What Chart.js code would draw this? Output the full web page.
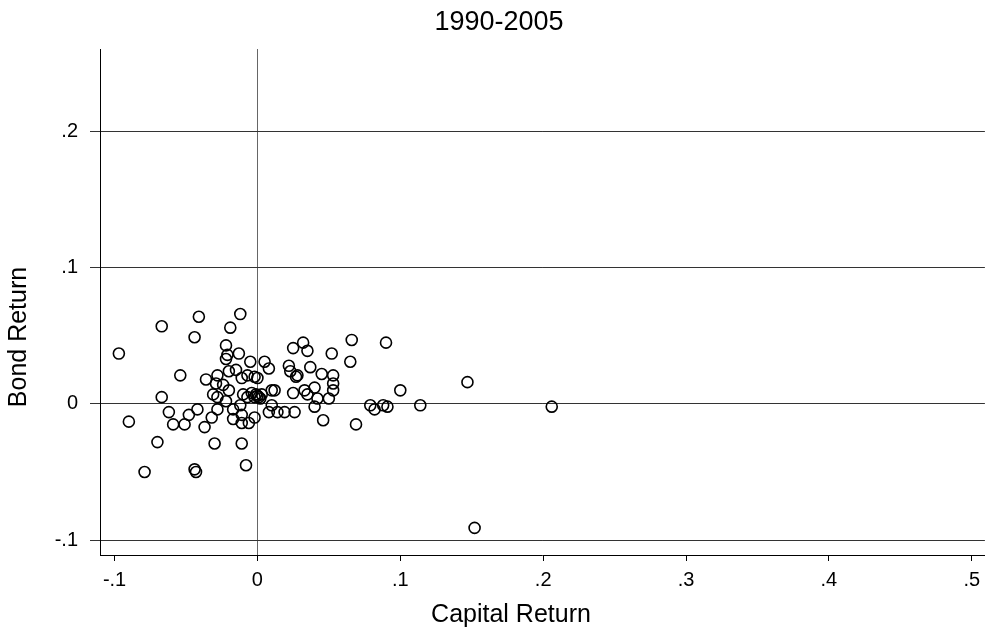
<!DOCTYPE html>
<html>
<head>
<meta charset="utf-8">
<script src="https://cdn.jsdelivr.net/npm/chart.js@4"></script>
<style>
  html, body { margin: 0; padding: 0; background: #fff; }
  #wrap { width: 992px; height: 634px; }
</style>
</head>
<body>
<div id="wrap"><canvas id="myChart" width="992" height="634"></canvas></div>
<script>
const chartTitle = '1990-2005';
const xTitle = 'Capital Return';
const yTitle = 'Bond Return';

const xTicks = [-0.1, 0, 0.1, 0.2, 0.3, 0.4, 0.5];
const yTicks = [-0.1, 0, 0.1, 0.2];

const capitalReturn = [
  -0.097, -0.067, -0.041, -0.044, -0.054, -0.012, -0.019, -0.022, -0.021, -0.022,
  -0.013, -0.005, -0.020, -0.015, -0.007, -0.011, -0.002, -0.036, -0.028, -0.029,
  -0.024, -0.020, -0.031, -0.028, -0.010, -0.007, -0.004, -0.002, -0.067, -0.022,
  -0.017, -0.012, -0.028, -0.042, -0.048, -0.062, -0.032, -0.017, -0.011, -0.002,
  -0.090, -0.059, -0.051, -0.037, -0.011, -0.006, -0.070, -0.030, -0.011, -0.079,
  -0.044, -0.043, -0.008, 0.005, 0.008, 0.000, 0.032, 0.025, 0.035, 0.066,
  0.090, 0.052, 0.065, 0.022, 0.023, 0.028, 0.027, 0.037, 0.045, 0.053,
  0.053, 0.053, 0.050, 0.040, 0.033, 0.035, 0.042, 0.025, 0.012, 0.010,
  0.100, -0.001, 0.001, 0.002, 0.010, 0.008, 0.014, 0.019, 0.026, 0.040,
  0.046, 0.069, 0.079, 0.082, 0.088, 0.091, 0.114, 0.147, 0.206, 0.152,
  0.000, 0.003
];
const bondReturn = [
  0.037, 0.057, 0.064, 0.049, 0.021, 0.066, 0.056, 0.043, 0.036, 0.033,
  0.037, 0.031, 0.024, 0.025, 0.021, 0.019, 0.020, 0.018, 0.021, 0.015,
  0.014, 0.010, 0.007, 0.005, 0.007, 0.005, 0.008, 0.005, 0.005, 0.002,
  -0.004, -0.001, -0.004, -0.004, -0.008, -0.006, -0.010, -0.011, -0.008, -0.010,
  -0.013, -0.015, -0.015, -0.017, -0.014, -0.014, -0.028, -0.029, -0.029, -0.050,
  -0.048, -0.050, -0.045, 0.031, 0.026, 0.019, 0.045, 0.041, 0.039, 0.047,
  0.045, 0.037, 0.031, 0.028, 0.024, 0.021, 0.020, 0.027, 0.022, 0.021,
  0.015, 0.010, 0.004, 0.012, 0.010, 0.007, 0.004, 0.008, 0.010, 0.010,
  0.010, 0.007, 0.005, 0.004, -0.001, -0.006, -0.006, -0.006, -0.006, -0.002,
  -0.012, -0.015, -0.001, -0.004, -0.001, -0.002, -0.001, 0.016, -0.002, -0.091,
  0.006, 0.007
];

const FONT = '"Liberation Sans", Arial, sans-serif';

// stata style labels: .1, -.1, 0
function fmt(v) {
  if (Math.abs(v) < 1e-9) return '0';
  let s = String(Math.round(v * 10) / 10);
  return s.replace('0.', '.');
}

const textPlugin = {
  id: 'stataText',
  afterDraw(chart) {
    const ctx = chart.ctx;
    ctx.save();
    ctx.fillStyle = '#000';
    ctx.textAlign = 'center';
    ctx.textBaseline = 'middle';
    ctx.font = '27px ' + FONT;
    ctx.fillText(chartTitle, 499, 23);
    ctx.font = '25px ' + FONT;
    ctx.fillText(xTitle, 511, 615);
    ctx.translate(19, 337);
    ctx.rotate(-Math.PI / 2);
    ctx.fillText(yTitle, 0, 0);
    ctx.restore();
  }
};

const points = capitalReturn.map((x, i) => ({ x: x, y: bondReturn[i] }));

new Chart(document.getElementById('myChart').getContext('2d'), {
  type: 'scatter',
  data: {
    datasets: [{
      data: points,
      pointStyle: 'circle',
      pointRadius: 5.5,
      pointBorderWidth: 1.6,
      pointBorderColor: '#000',
      pointBackgroundColor: 'rgba(0,0,0,0)'
    }]
  },
  options: {
    responsive: false,
    animation: false,
    layout: { padding: { top: 49, right: 2, left: 0, bottom: 0 } },
    plugins: { legend: { display: false }, tooltip: { enabled: false } },
    scales: {
      x: {
        type: 'linear',
        min: -0.1102,
        max: 0.5092,
        afterBuildTicks: s => { s.ticks = xTicks.map(v => ({ value: v })); },
        afterFit: s => { s.height = 79; },
        ticks: {
          callback: v => fmt(v),
          color: '#000',
          font: { family: FONT, size: 20 },
          padding: 7,
          maxRotation: 0
        },
        grid: {
          color: c => (c.tick && Math.abs(c.tick.value) < 1e-9) ? '#666' : 'rgba(0,0,0,0)',
          tickColor: '#000',
          tickLength: 6,
          lineWidth: 1
        },
        border: { display: true, color: '#000', width: 1 }
      },
      y: {
        type: 'linear',
        min: -0.1109,
        max: 0.2606,
        afterBuildTicks: s => { s.ticks = yTicks.map(v => ({ value: v })); },
        afterFit: s => { s.width = 100; },
        ticks: {
          callback: v => fmt(v),
          color: '#000',
          font: { family: FONT, size: 20 },
          padding: 12
        },
        grid: {
          color: '#333',
          tickColor: '#333',
          tickLength: 10,
          lineWidth: 1
        },
        border: { display: true, color: '#000', width: 1 }
      }
    }
  },
  plugins: [textPlugin]
});
</script>
</body>
</html>
